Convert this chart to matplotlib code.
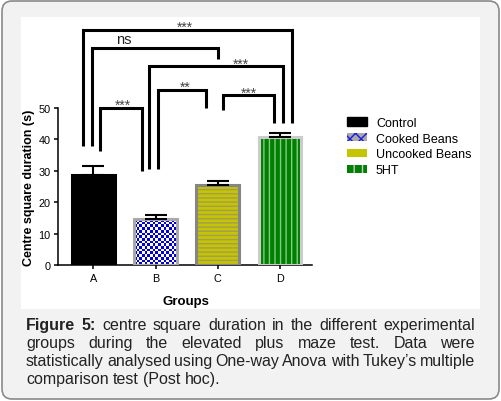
import numpy as np
import matplotlib
matplotlib.use('Agg')
import matplotlib.pyplot as plt
from matplotlib.patches import Patch, FancyBboxPatch, Rectangle
from matplotlib.colors import ListedColormap

plt.rcParams['font.family'] = ['Liberation Sans', 'DejaVu Sans']
plt.rcParams['hatch.linewidth'] = 1.0

# data
groups = ['A', 'B', 'C', 'D']
means = [28.8, 14.6, 25.5, 40.7]
sem = [2.6, 1.3, 1.4, 1.3]
legend_labels = ['Control', 'Cooked Beans', 'Uncooked Beans', '5HT']

# significance brackets: (x left, y left end, x right, y right end, y top, label, label x, label y)
brackets = [
    (-0.17, 38.0, 3.20, 45.2, 74.8, '***', 1.48, 77.1),
    (-0.02, 38.0, 2.01, 65.6, 69.0, 'ns', 0.36, 71.8),
    (0.895, 30.6, 3.05, 45.2, 63.5, '***', 2.37, 65.6),
    (0.10, 36.4, 0.78, 30.0, 50.0, '***', 0.47, 52.3),
    (1.045, 30.6, 1.81, 49.9, 55.8, '**', 1.48, 58.2),
    (2.09, 49.5, 2.91, 45.2, 54.1, '***', 2.50, 56.3),
]

caption_lines = [
    'Figure 5: centre square duration in the different experimental',
    'groups during the elevated plus maze test. Data were',
    'statistically analysed using One-way Anova with Tukey\u2019s multiple',
    'comparison test (Post hoc).',
]

fig = plt.figure(figsize=(5.01, 4.02), dpi=100)
fig.patch.set_facecolor('white')

# page background and white plot panel
box = FancyBboxPatch((0.02, 0.02), 4.97, 3.98, boxstyle='round,pad=0,rounding_size=0.1',
                     transform=fig.dpi_scale_trans, facecolor='#f2f2f2',
                     edgecolor='#8a8a8a', lw=1.2, zorder=-2)
fig.patches.append(box)
panel = Rectangle((0.21, 0.92), 4.59, 2.92, transform=fig.dpi_scale_trans,
                  facecolor='white', edgecolor='none', zorder=-1)
fig.patches.append(panel)

ax = fig.add_axes([58 / 501, 136 / 402, 254 / 501, 157 / 402])
ax.patch.set_alpha(0)

x = np.arange(len(groups))
w = 0.68
face = ['black', '#0000dd', '#c4c400', '#008000']
hatch_col = ['black', '#0000dd', '#a39d55', '#86c886']
hatches = ['', '', '----', '|||']
edge = ['black', '#a9a9a9', '#858585', '#cccccc']

bars = ax.bar(x, means, width=w, color=face, lw=0, zorder=2)
for b, hc, h in zip(bars, hatch_col, hatches):
    if h:
        b.set_hatch(h)
        b.set_edgecolor(hc)

# checkerboard fill for the cooked beans bar
b = bars[1]
ny = int(round(means[1] / 0.86))
checker = np.indices((ny, 16)).sum(axis=0) % 2
img = ax.imshow(checker, cmap=ListedColormap(['#0000dd', 'white']), origin='lower',
                extent=(b.get_x(), b.get_x() + b.get_width(), 0, means[1]),
                aspect='auto', interpolation='nearest', zorder=2.2)
img.set_clip_path(b)

ax.bar(x, means, width=w, fill=False, edgecolor=edge, lw=2.2, zorder=3)
ax.errorbar(x, means, yerr=[np.zeros(len(sem)), sem], fmt='none', ecolor='black',
            elinewidth=1.5, capsize=7.8, capthick=1.5, zorder=4)

for xl, yl, xr, yr, top, lab, lx, ly in brackets:
    ax.plot([xl, xl, xr, xr], [yl, top, top, yr], color='black', lw=2.2,
            solid_joinstyle='miter', solid_capstyle='butt', clip_on=False, zorder=5)
    if lab == 'ns':
        ax.annotate(lab, (lx, ly), xytext=(0, -2.7), textcoords='offset points',
                    ha='left', va='baseline', fontsize=10.5, color='#222222',
                    annotation_clip=False)
    else:
        ax.annotate(lab, (lx, ly), xytext=(0, -6), textcoords='offset points',
                    ha='center', va='baseline', fontsize=10, color='#444444',
                    annotation_clip=False)

ax.set_xlim(-0.57, 3.52)
ax.set_ylim(0, 50)
ax.set_yticks([0, 10, 20, 30, 40, 50])
ax.set_xticks(x)
ax.set_xticklabels(groups)
for s in ['top', 'right']:
    ax.spines[s].set_visible(False)
for s in ['left', 'bottom']:
    ax.spines[s].set_linewidth(1.1)
ax.tick_params(direction='out', length=3, width=1.1, labelsize=7.8, pad=2.5)
ax.set_ylabel('Centre square duration (s)', fontsize=9, fontweight='bold')
ax.yaxis.set_label_coords(-0.0925, 0.5)
ax.set_xlabel('Groups', fontsize=9.5, fontweight='bold')
ax.xaxis.set_label_coords(0.504, -0.191)
ax.xaxis.label.set_va('top')

# legend swatches: plain box with the fill pattern drawn over it
handles = [
    Patch(facecolor='black', edgecolor='black'),
    (Patch(facecolor='#a9a9a9', edgecolor='none'),
     Patch(facecolor='none', edgecolor='#1a1ae0', hatch='xxx', lw=0)),
    (Patch(facecolor='#858585', edgecolor='none'),
     Patch(facecolor='#c4c400', edgecolor='none', hatch=None),),
    (Patch(facecolor='#cccccc', edgecolor='none'),
     Patch(facecolor='#008000', edgecolor='#cccccc', hatch='||', lw=0)),
]
leg = fig.legend(handles, legend_labels, loc='center left',
                 bbox_to_anchor=(347 / 501, 1 - 147.4 / 402),
                 frameon=False, fontsize=9, handlelength=1.6, handleheight=0.64,
                 handletextpad=0.72, labelspacing=0.3, borderpad=0, borderaxespad=0)

# justified caption
ren = fig.canvas.get_renderer()
x_left, x_right = 26, 475
baselines = [330, 348, 366, 384]
for i, line in enumerate(caption_lines):
    words = line.split()
    texts = []
    for j, wd in enumerate(words):
        bold = (i == 0 and j < 2)
        t = fig.text(0, 0, wd, fontsize=11.5, fontweight='bold' if bold else 'normal',
                     color='#222222', va='baseline', ha='left',
                     transform=fig.dpi_scale_trans)
        texts.append(t)
    widths = [t.get_window_extent(renderer=ren).width for t in texts]
    if i < len(caption_lines) - 1:
        gap = (x_right - x_left - sum(widths)) / (len(words) - 1)
    else:
        gap = 11.5 * 100 / 72 * 0.278
    xp = x_left
    for t, wdt in zip(texts, widths):
        t.set_position((xp / 100, (402 - baselines[i]) / 100))
        xp += wdt + gap

fig.savefig('out.png', dpi=100)
